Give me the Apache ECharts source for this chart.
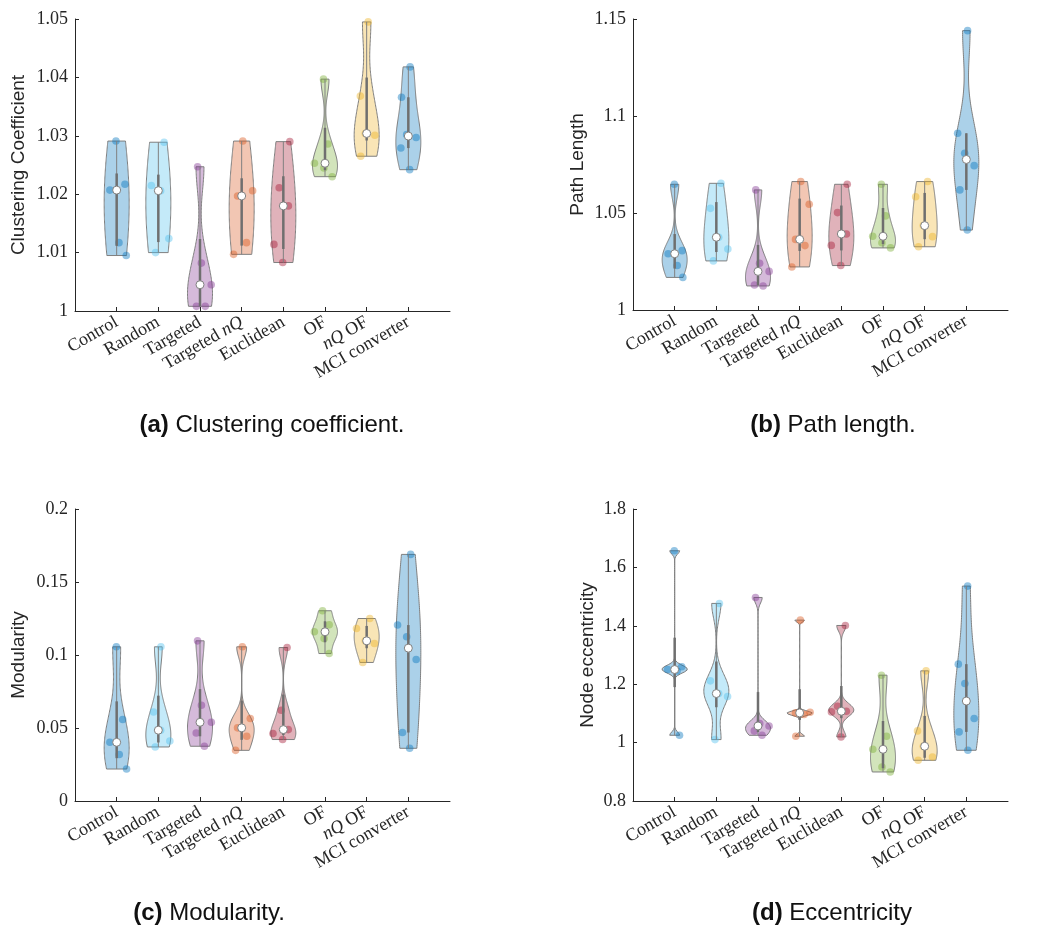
<!DOCTYPE html>
<html>
<head>
<meta charset="utf-8">
<script src="https://cdn.jsdelivr.net/npm/echarts@6/dist/echarts.min.js"></script>
<style>
  html, body { margin: 0; padding: 0; background: #ffffff; }
  #chart { width: 1044px; height: 929px; }
</style>
</head>
<body>
<div id="chart"></div>
<script>
// Groups, in axis order
const groupNames = ['Control', 'Random', 'Targeted', 'Targeted nQ', 'Euclidean', 'OF', 'nQ OF', 'MCI converter'];
const groupColors = ['#0072BD', '#4DBEEE', '#7E2F8E', '#D95319', '#A2142F', '#77AC30', '#EDB120', '#0072BD'];

// Per-subject values of each network measure, one list per group
const clusteringValues = [
  [1.0095, 1.0117, 1.0207, 1.0217, 1.0291],
  [1.0100, 1.0124, 1.0206, 1.0215, 1.0289],
  [1.0008, 1.0008, 1.0045, 1.0082, 1.0247],
  [1.0097, 1.0117, 1.0197, 1.0206, 1.0291],
  [1.0083, 1.0114, 1.0180, 1.0211, 1.0290],
  [1.0230, 1.0245, 1.0253, 1.0286, 1.0397],
  [1.0265, 1.0301, 1.0304, 1.0368, 1.0495],
  [1.0242, 1.0279, 1.0297, 1.0302, 1.0366, 1.0418]
];
const pathLengthValues = [
  [1.0168, 1.0229, 1.0290, 1.0306, 1.0648],
  [1.0253, 1.0314, 1.0375, 1.0524, 1.0653],
  [1.0124, 1.0129, 1.0199, 1.0241, 1.0619],
  [1.0222, 1.0332, 1.0364, 1.0545, 1.0662],
  [1.0229, 1.0333, 1.0392, 1.0502, 1.0648],
  [1.0320, 1.0347, 1.0380, 1.0485, 1.0648],
  [1.0326, 1.0378, 1.0435, 1.0584, 1.0662],
  [1.0412, 1.0619, 1.0744, 1.0808, 1.0911, 1.1440]
];
const modularityValues = [
  [0.0219, 0.0318, 0.0402, 0.0558, 0.1056],
  [0.0370, 0.0411, 0.0485, 0.0610, 0.1056],
  [0.0375, 0.0466, 0.0539, 0.0656, 0.1097],
  [0.0347, 0.0443, 0.0501, 0.0565, 0.1056],
  [0.0421, 0.0462, 0.0489, 0.0622, 0.1051],
  [0.1010, 0.1113, 0.1159, 0.1207, 0.1303],
  [0.0949, 0.1079, 0.1097, 0.1182, 0.1250],
  [0.0361, 0.0469, 0.0969, 0.1125, 0.1205, 0.1689]
];
const eccentricityValues = [
  [1.0251, 1.2450, 1.2503, 1.2600, 1.6570],
  [1.0103, 1.1580, 1.1680, 1.2114, 1.4766],
  [1.0250, 1.0400, 1.0570, 1.0650, 1.4970],
  [1.0217, 1.0960, 1.1017, 1.1040, 1.4194],
  [1.0194, 1.1051, 1.1074, 1.1246, 1.4011],
  [0.8994, 0.9166, 0.9771, 1.0217, 1.2309],
  [0.9394, 0.9509, 0.9874, 1.0400, 1.2457],
  [0.9737, 1.0366, 1.0823, 1.2023, 1.2686, 1.5360]
];

// Axis titles and subfigure captions
const axisTitles = ['Clustering Coefficient', 'Path Length', 'Modularity', 'Node eccentricity'];
const captionTags = ['(a)', '(b)', '(c)', '(d)'];
const captionTexts = ['Clustering coefficient.', 'Path length.', 'Modularity.', 'Eccentricity'];

// ---------- statistics ----------
function sorted(a) { return a.slice().sort((p, q) => p - q); }
function median(a) {
  const s = sorted(a), n = s.length;
  return n % 2 ? s[(n - 1) / 2] : (s[n / 2 - 1] + s[n / 2]) / 2;
}
// quantile with plotting positions (i - 0.5) / n and linear interpolation
function quantile(a, p) {
  const s = sorted(a), n = s.length;
  const pos = p * n - 0.5;
  if (pos <= 0) return s[0];
  if (pos >= n - 1) return s[n - 1];
  const i = Math.floor(pos), f = pos - i;
  return s[i] + f * (s[i + 1] - s[i]);
}
// Gaussian KDE with the normal-reference bandwidth built on the MAD
function bandwidth(a) {
  const m = median(a);
  let sig = median(a.map(v => Math.abs(v - m))) / 0.6745;
  if (sig <= 0) sig = Math.max(...a) - Math.min(...a);
  return sig * Math.pow(4 / (3 * a.length), 0.2);
}
function kde(a, bw, y) {
  let s = 0;
  for (const v of a) { const z = (y - v) / bw; s += Math.exp(-0.5 * z * z); }
  return s;
}
function rgba(hex, a) {
  const n = parseInt(hex.slice(1), 16);
  return 'rgba(' + ((n >> 16) & 255) + ',' + ((n >> 8) & 255) + ',' + (n & 255) + ',' + a + ')';
}

const VIOLIN_HALF = 0.3;   // max half width, in category units
const STEPS = 100;

function violinRenderer(values) {
  return function (params, api) {
    const g = api.value(0);
    const vals = values[g - 1];
    const color = groupColors[g - 1];
    const lo = Math.min(...vals), hi = Math.max(...vals);
    const bw = bandwidth(vals);
    const ys = [], ds = [];
    for (let k = 0; k < STEPS; k++) {
      const y = lo + (hi - lo) * k / (STEPS - 1);
      ys.push(y); ds.push(kde(vals, bw, y));
    }
    const dmax = Math.max(...ds);
    const cx = api.coord([g, lo])[0];
    const unit = api.coord([1, lo])[0] - api.coord([0, lo])[0];
    const halfPx = d => VIOLIN_HALF * unit * d / dmax;

    const right = [], left = [];
    for (let k = 0; k < STEPS; k++) {
      const py = api.coord([g, ys[k]])[1];
      const w = halfPx(ds[k]);
      right.push([cx + w, py]);
      left.push([cx - w, py]);
    }
    const outline = right.concat(left.reverse());

    const q1 = quantile(vals, 0.25), q3 = quantile(vals, 0.75), iqr = q3 - q1;
    let lw = q1 - 1.5 * iqr, hw = q3 + 1.5 * iqr;
    lw = Math.max(lw, Math.min(...vals.filter(v => v > lw)));
    hw = Math.min(hw, Math.max(...vals.filter(v => v < hw)));
    const med = median(vals);

    const children = [{
      type: 'polygon',
      shape: { points: outline },
      style: { fill: rgba(color, 0.33), stroke: '#7f7f7f', lineWidth: 1 }
    }];
    // jittered points, spread inside the local violin width
    vals.forEach((v, j) => {
      const frac = (((j + 1) * 0.618034 + g * 0.37) % 1) * 2 - 1;
      const w = halfPx(kde(vals, bw, v));
      const p = api.coord([g, v]);
      children.push({
        type: 'circle',
        shape: { cx: cx + frac * w, cy: p[1], r: 3.8 },
        style: { fill: rgba(color, 0.42) }
      });
    });
    const yl = api.coord([g, lw])[1], yh = api.coord([g, hw])[1];
    const y1 = api.coord([g, q1])[1], y3 = api.coord([g, q3])[1];
    const ym = api.coord([g, med])[1];
    children.push({
      type: 'line', shape: { x1: cx, y1: yl, x2: cx, y2: yh },
      style: { stroke: '#808080', lineWidth: 1 }
    });
    children.push({
      type: 'line', shape: { x1: cx, y1: y1, x2: cx, y2: y3 },
      style: { stroke: '#6f6f6f', lineWidth: 2.5 }
    });
    children.push({
      type: 'circle', shape: { cx: cx, cy: ym, r: 4 },
      style: { fill: '#ffffff', stroke: '#808080', lineWidth: 1 }
    });
    return { type: 'group', children: children };
  };
}

// ---------- layout ----------
const AXIS_COLOR = '#262626';
const SERIF = 'Liberation Serif';
const SANS = 'Liberation Sans';
const panelData = [clusteringValues, pathLengthValues, modularityValues, eccentricityValues];
const yRanges = [[1, 1.05, 0.01], [1, 1.15, 0.05], [0, 0.2, 0.05], [0.8, 1.8, 0.2]];
const gridBoxes = [
  { left: 75, top: 19, width: 375, height: 292 },
  { left: 633, top: 19, width: 375, height: 291 },
  { left: 75, top: 509, width: 375, height: 292 },
  { left: 633, top: 509, width: 375, height: 292 }
];
const nameGaps = [47, 46, 47, 36];
const captionPos = [[272, 425], [833, 425], [209, 913], [832, 913]];
const axisCategories = [''].concat(groupNames, ['']);

function categoryLabel(v) {
  if (v === 'Targeted nQ') return 'Targeted {it|nQ}';
  if (v === 'nQ OF') return '{it|nQ} OF';
  return v;
}

const option = {
  animation: false,
  backgroundColor: '#ffffff',
  grid: gridBoxes.map(b => Object.assign({ containLabel: false }, b)),
  xAxis: gridBoxes.map((b, i) => ({
    type: 'category',
    gridIndex: i,
    data: axisCategories,
    boundaryGap: false,
    axisLine: { lineStyle: { color: AXIS_COLOR, width: 1 } },
    axisTick: {
      inside: true, length: 4, lineStyle: { color: AXIS_COLOR },
      interval: (idx) => idx > 0 && idx < axisCategories.length - 1
    },
    axisLabel: {
      interval: 0, rotate: 30, margin: 10,
      fontFamily: SERIF, fontSize: 18, color: AXIS_COLOR,
      formatter: categoryLabel,
      rich: { it: { fontFamily: SERIF, fontStyle: 'italic', fontSize: 18, color: AXIS_COLOR } }
    },
    splitLine: { show: false }
  })),
  yAxis: yRanges.map((r, i) => ({
    type: 'value',
    gridIndex: i,
    min: r[0], max: r[1], interval: r[2],
    name: axisTitles[i],
    nameLocation: 'middle',
    nameGap: nameGaps[i],
    nameTextStyle: { fontFamily: SANS, fontSize: 19, color: AXIS_COLOR },
    axisLine: { show: true, lineStyle: { color: AXIS_COLOR, width: 1 } },
    axisTick: { show: true, inside: true, length: 4, lineStyle: { color: AXIS_COLOR } },
    axisLabel: { fontFamily: SERIF, fontSize: 18, color: AXIS_COLOR, margin: 7 },
    splitLine: { show: false }
  })),
  series: panelData.map((vals, i) => ({
    type: 'custom',
    xAxisIndex: i,
    yAxisIndex: i,
    clip: false,
    silent: true,
    renderItem: violinRenderer(vals),
    encode: { x: 0, y: 1 },
    data: vals.map((v, k) => [k + 1, median(v)])
  })),
  graphic: captionPos.map((p, i) => ({
    type: 'text',
    x: p[0], y: p[1],
    style: {
      text: '{b|' + captionTags[i] + '} ' + captionTexts[i],
      fontFamily: SANS, fontSize: 24, fill: '#111111',
      align: 'center', verticalAlign: 'middle',
      rich: { b: { fontFamily: SANS, fontSize: 24, fontWeight: 'bold', fill: '#111111' } }
    }
  }))
};

const chart = echarts.init(document.getElementById('chart'), null, { renderer: 'canvas' });
chart.setOption(option);
</script>
</body>
</html>
